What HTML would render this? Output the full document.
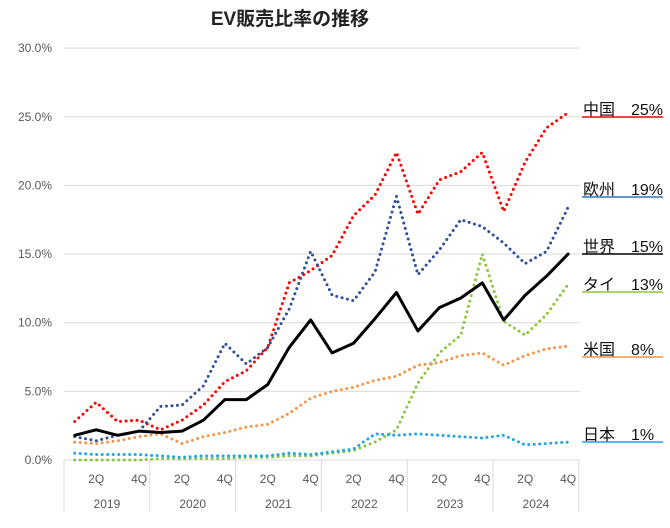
<!DOCTYPE html>
<html><head><meta charset="utf-8"><style>
body{margin:0;background:#fff;}
svg text{font-family:"Liberation Sans","Noto Sans CJK JP",sans-serif;}
</style></head><body>
<svg id="c" width="670" height="523" xmlns="http://www.w3.org/2000/svg">
<text x="290" y="25" text-anchor="middle" font-size="19" font-weight="bold" fill="#222">EV販売比率の推移</text>
<g id="grid"></g><g id="xaxis"></g><g id="series"></g><g id="labels"></g>
</svg>
<script>
const yTicks=[0,5,10,15,20,25,30];
const years=["2019","2020","2021","2022","2023","2024"];
const quarterLabels=["","2Q","","4Q"];
const china=[2.8,4.2,2.8,2.9,2.2,2.9,4.0,5.7,6.5,8.2,12.9,13.8,14.9,17.8,19.3,22.4,17.9,20.4,21.0,22.4,18.1,21.7,24.2,25.3];
const europe=[1.7,1.4,1.8,2.1,3.9,4.0,5.4,8.5,7.0,8.2,11.0,15.2,12.0,11.6,13.7,19.2,13.5,15.3,17.5,17.0,15.8,14.3,15.2,18.4];
const world=[1.8,2.2,1.8,2.1,2.0,2.1,2.9,4.4,4.4,5.5,8.2,10.2,7.8,8.5,10.3,12.2,9.4,11.1,11.8,12.9,10.2,12.0,13.4,15.0];
const thai=[0,0,0,0,0.1,0.1,0.1,0.1,0.2,0.2,0.3,0.3,0.5,0.7,1.3,2.2,5.6,7.8,9.1,15.0,10.1,9.1,10.6,12.8];
const us=[1.3,1.2,1.4,1.7,1.9,1.2,1.7,2.0,2.4,2.6,3.4,4.5,5.0,5.3,5.8,6.1,6.9,7.1,7.6,7.8,6.9,7.6,8.1,8.3];
const japan=[0.5,0.4,0.4,0.4,0.3,0.2,0.3,0.3,0.3,0.3,0.5,0.4,0.6,0.8,1.9,1.8,1.9,1.8,1.7,1.6,1.8,1.1,1.2,1.3];
const seriesNames=["中国","欧州","世界","タイ","米国","日本"];
const seriesFinal=["25%","19%","15%","13%","8%","1%"];
const NS="http://www.w3.org/2000/svg";
const X0=64,QW=21.45,Y0=460,YS=13.73;
const x=i=>X0+QW*(i+0.5);
const y=v=>Y0-v*YS;
function mk(t,a,p){const e=document.createElementNS(NS,t);for(const k in a)e.setAttribute(k,a[k]);p.appendChild(e);return e;}
const grid=document.getElementById('grid');
yTicks.forEach(t=>{
 const l=mk('line',{x1:64,x2:580,y1:y(t),y2:y(t),stroke:'#d9d9d9','stroke-width':1},grid);
 
 
 const tx=mk('text',{x:52,y:y(t)+4,'text-anchor':'end','font-size':12,fill:'#595959'},grid);
 tx.textContent=t.toFixed(1)+'%';
 
 
});
const xa=document.getElementById('xaxis');
years.forEach((yr,k)=>{
 const sx=X0+k*4*QW;
 const s=mk('line',{x1:sx,x2:sx,y1:460,y2:512,stroke:'#d9d9d9'},xa);
 
 
 quarterLabels.forEach((q,j)=>{if(!q)return;
  const t=mk('text',{x:x(k*4+j),y:483,'text-anchor':'middle','font-size':12,fill:'#595959'},xa);
  t.textContent=q;
  
  
 });
 const t=mk('text',{x:sx+2*QW,y:508,'text-anchor':'middle','font-size':12,fill:'#595959'},xa);
 t.textContent=yr;
 
 
});
const lastS=X0+24*QW;
const ls=mk('line',{x1:lastS,x2:lastS,y1:460,y2:512,stroke:'#d9d9d9'},xa);


const sdef=[[china,'#ff0000',false,'china-line'],[europe,'#2f4f9a',false,'europe-line'],[thai,'#8cc63f',false,'thailand-line'],[us,'#f4954a',false,'us-line'],[japan,'#1fa5e8',false,'japan-line'],[world,'#000',true,'world-line']];
const sg=document.getElementById('series');
sdef.forEach(([d,c,solid,n])=>{
 const p=mk('polyline',{points:d.map((v,i)=>x(i)+','+y(v)).join(' '),fill:'none',stroke:c,'stroke-width':3,'stroke-dasharray':solid?'none':'0 5.5','stroke-linecap':'round','stroke-linejoin':'round'},sg);
 
 
});
const lg=document.getElementById('labels');
const labelData=[[china,'#ff0000'],[europe,'#2e75b6'],[world,'#000'],[thai,'#8cc63f'],[us,'#f4954a'],[japan,'#1fa5e8']];
const labelY=[117,197,254,292,357,442];
labelData.forEach(([d,c],i)=>{
 const t=mk('text',{x:583,y:labelY[i]-2,'font-size':16,fill:'#111'},lg);
 t.textContent=seriesNames[i]+'\u3000'+seriesFinal[i];
 
 
 const u=mk('line',{x1:582,x2:663,y1:labelY[i],y2:labelY[i],stroke:c,'stroke-width':1.5},lg);
 
 
});
</script>
</body></html>
